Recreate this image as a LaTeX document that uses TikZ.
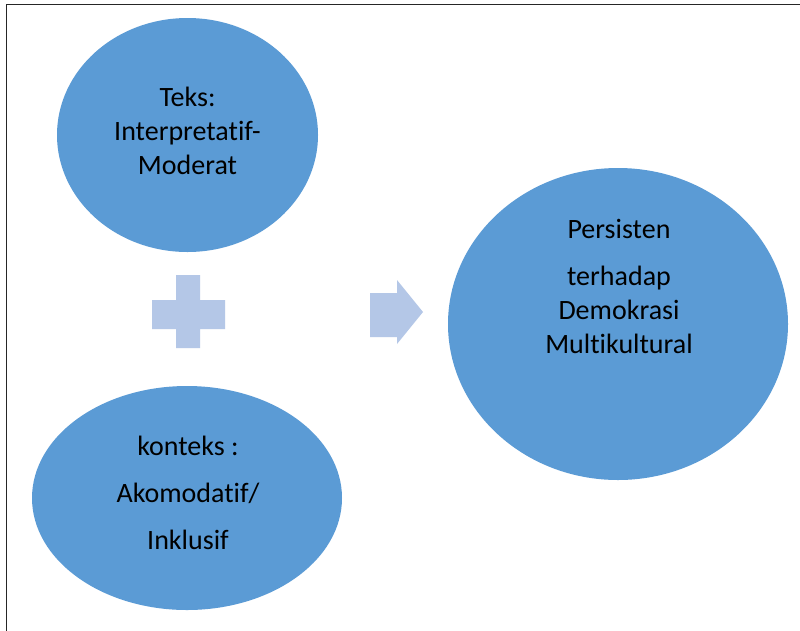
\documentclass[tikz,border=0pt]{standalone}
\usepackage{fontspec}
\setmainfont{Carlito}[Ligatures={NoCommon}]
\usetikzlibrary{shapes.geometric}
\definecolor{blobblue}{HTML}{5B9BD5}
\definecolor{lightblue}{HTML}{B4C7E7}
\definecolor{frame}{HTML}{262626}
\tikzset{
  blob/.style={ellipse, fill=blobblue, draw=none, inner sep=0pt},
  txt/.style={align=center, inner sep=0pt, text=black, font=\fontsize{28}{34}\selectfont},
  sym/.style={fill=lightblue, draw=none}
}
\begin{document}
\begin{tikzpicture}[x=1pt,y=-1pt]
\useasboundingbox (0,0) rectangle (800,630);
\fill[white] (0,0) rectangle (800,630);
% frame
\draw[frame, line width=1.6pt] (6.5,631) -- (6.5,4.5) -- (801,4.5);
% ellipses
\node[blob, minimum width=261pt, minimum height=234pt] (teks) at (187.5,135) {};
\node[blob, minimum width=310pt, minimum height=224pt] (konteks) at (187,498) {};
\node[blob, minimum width=340pt, minimum height=312pt] (hasil) at (618,324) {};
% texts
\node[txt] (teksT) at (187.5,131) {Teks:\\Interpretatif-\\Moderat};
\node[txt] (kontT) at (188,492.7) {konteks :\\[13pt]Akomodatif/\\[13pt]Inklusif};
\node[txt] (hasilT) at (619,286.8) {Persisten\\[13pt]terhadap\\Demokrasi\\Multikultural};
% plus
\fill[sym] (176,275) -- (200,275) -- (200,300) -- (225,300) -- (225,329) -- (200,329)
  -- (200,348) -- (176,348) -- (176,329) -- (152,329) -- (152,300) -- (176,300) -- cycle;
% arrow
\fill[sym] (370,293) -- (397,293) -- (397,280) -- (423,312) -- (397,344) -- (397,337)
  -- (370,337) -- cycle;
\end{tikzpicture}
\end{document}
